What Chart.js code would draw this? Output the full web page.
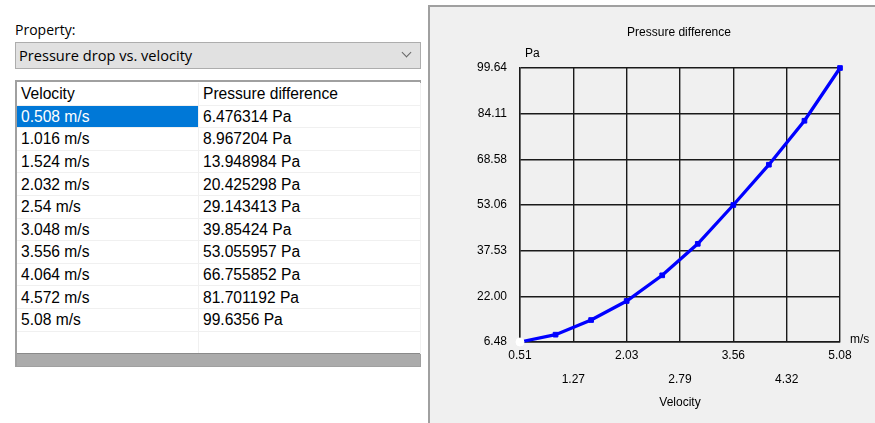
<!DOCTYPE html>
<html>
<head>
<meta charset="utf-8">
<script src="https://cdn.jsdelivr.net/npm/chart.js@4.4.1/dist/chart.umd.min.js"></script>
<style>
  body { margin: 0; width: 875px; height: 423px; background: #fff; position: relative; overflow: hidden; font-family: "Liberation Sans", Arial, sans-serif; }
  #prop-label { position: absolute; left: 15px; top: 20px; font: 14px "Open Sans", sans-serif; color: #000; }
  #dropdown { position: absolute; left: 15px; top: 42px; width: 406px; height: 27px; background: #e1e1e1; border: 1px solid #adadad; font: 14.6px "Open Sans", sans-serif; line-height: 25px; padding-left: 3px; box-sizing: border-box; }
  #dropdown .chev { position: absolute; right: 10px; top: 6px; width: 6px; height: 6px; border-right: 1px solid #666; border-bottom: 1px solid #666; transform: rotate(45deg); }
  #table-box { position: absolute; left: 15px; top: 80px; width: 406px; height: 287px; border: 1px solid #a0a0a0; border-left-width: 2px; border-top-width: 2px; box-sizing: border-box; background: #fff; }
  table { border-collapse: collapse; font-size: 15.6px; position: absolute; left: 0; top: 1px; width: 404px; }
  td { height: 21.6px; padding: 0 0 0 4px; border-bottom: 1px solid #f0f0f0; border-right: 1px solid #f0f0f0; white-space: nowrap; line-height: 21px; }
  td.c1 { width: 177px; }
  tr.sel td.c1 { background: #0078d7; color: #fff; }
  #bar { position: absolute; left: 0; bottom: 0; width: 100%; height: 12px; background: #ababab; border-top: 1px solid #8a8a8a; }
  #panel { position: absolute; left: 428px; top: 5px; width: 447px; height: 418px; background: #f0f0f0; border-left: 2px solid #a0a0a0; border-top: 2px solid #a0a0a0; box-sizing: border-box; }
  #chart-wrap { position: absolute; left: 428px; top: 5px; width: 447px; height: 418px; }
</style>
</head>
<body>
<div id="prop-label">Property:</div>
<div id="dropdown">Pressure drop vs. velocity<span class="chev"></span></div>
<div id="table-box">
  <table id="tbl"></table>
  <div id="bar"></div>
</div>
<div id="panel"></div>
<div id="chart-wrap"><canvas id="my-chart" width="447" height="418"></canvas></div>
<script>
const velocity = [0.508, 1.016, 1.524, 2.032, 2.54, 3.048, 3.556, 4.064, 4.572, 5.08];
const velocityLabels = ['0.508 m/s', '1.016 m/s', '1.524 m/s', '2.032 m/s', '2.54 m/s', '3.048 m/s', '3.556 m/s', '4.064 m/s', '4.572 m/s', '5.08 m/s'];
const pressure = [6.476314, 8.967204, 13.948984, 20.425298, 29.143413, 39.85424, 53.055957, 66.755852, 81.701192, 99.6356];
const pressureLabels = ['6.476314 Pa', '8.967204 Pa', '13.948984 Pa', '20.425298 Pa', '29.143413 Pa', '39.85424 Pa', '53.055957 Pa', '66.755852 Pa', '81.701192 Pa', '99.6356 Pa'];
const xTicks = [0.508, 1.27, 2.032, 2.794, 3.556, 4.318, 5.08];
const xTickLabels = ['0.51', '1.27', '2.03', '2.79', '3.56', '4.32', '5.08'];
const yTicks = [6.476314, 22.0, 37.53, 53.06, 68.58, 84.11, 99.6356];
const yTickLabels = ['6.48', '22.00', '37.53', '53.06', '68.58', '84.11', '99.64'];

// table on the left
const tbl = document.getElementById('tbl');
let html = '<tr><td class="c1">Velocity</td><td>Pressure difference</td></tr>';
for (let i = 0; i < velocity.length; i++) {
  html += `<tr class="${i === 0 ? 'sel' : ''}"><td class="c1">${velocityLabels[i]}</td><td>${pressureLabels[i]}</td></tr>`;
}
html += '<tr><td class="c1"></td><td></td></tr>';
tbl.innerHTML = html;

const font = { family: '"Liberation Sans", Arial, sans-serif', size: 12 };

// extra texts: title, unit labels
const labelsPlugin = {
  id: 'extraLabels',
  afterDraw(chart) {
    const { ctx, chartArea } = chart;
    ctx.save();
    ctx.fillStyle = '#000';
    ctx.font = '12px "Liberation Sans", Arial, sans-serif';
    ctx.textBaseline = 'middle';
    ctx.textAlign = 'center';
    ctx.fillText('Pressure difference', 251, 28);
    ctx.textAlign = 'left';
    ctx.fillText('Pa', chartArea.left + 5, 49);
    ctx.fillText('m/s', chartArea.right + 10, chartArea.bottom - 2);
    ctx.restore();
  },
};

const ctx = document.getElementById('my-chart').getContext('2d');

new Chart(ctx, {
  type: 'line',
  data: {
    datasets: [
      {
        data: velocity.map((v, i) => ({ x: v, y: pressure[i] })),
        borderColor: '#0000ff',
        borderWidth: 3.3,
        backgroundColor: (c) => (c.dataIndex === 0 ? '#ffffff' : '#0000ff'),
        pointBorderColor: (c) => (c.dataIndex === 0 ? '#ffffff' : '#0000ff'),
        pointStyle: (c) => (c.dataIndex === 0 ? 'circle' : 'rect'),
        pointRadius: (c) => (c.dataIndex === 0 ? 4 : 3.3),
        pointBorderWidth: 1,
        tension: 0,
        clip: false,
      },
    ],
  },
  options: {
    responsive: false,
    animation: false,
    events: [],
    layout: { padding: { left: 0, right: 35, top: 63, bottom: 13 } },
    plugins: {
      legend: { display: false },
      tooltip: { enabled: false },
    },
    scales: {
      x: {
        type: 'linear',
        min: 0.508,
        max: 5.08,
        afterBuildTicks: (scale) => {
          scale.ticks = xTicks.map((v) => ({ value: v }));
        },
        afterFit: (scale) => {
          scale.height = 418 - 337 - 13;
        },
        ticks: {
          autoSkip: false,
          maxRotation: 0,
          padding: 2,
          color: '#000',
          font: { ...font, lineHeight: 2 },
          callback: (v, i) => (i % 2 === 0 ? [xTickLabels[i], ''] : ['', xTickLabels[i]]),
        },
        grid: { color: '#1a1a1a', lineWidth: 1.4, drawTicks: false },
        border: { color: '#1a1a1a', width: 1.4 },
        title: { display: true, text: 'Velocity', color: '#000', font, padding: 0 },
      },
      y: {
        type: 'linear',
        min: 6.476314,
        max: 99.6356,
        afterBuildTicks: (scale) => {
          scale.ticks = yTicks.map((v) => ({ value: v }));
        },
        afterFit: (scale) => {
          scale.width = 92;
        },
        ticks: {
          padding: 13,
          color: '#000',
          font,
          callback: (v, i) => yTickLabels[i],
        },
        grid: { color: '#1a1a1a', lineWidth: 1.4, drawTicks: false },
        border: { color: '#1a1a1a', width: 1.4 },
      },
    },
  },
  plugins: [labelsPlugin],
});
</script>
</body>
</html>
